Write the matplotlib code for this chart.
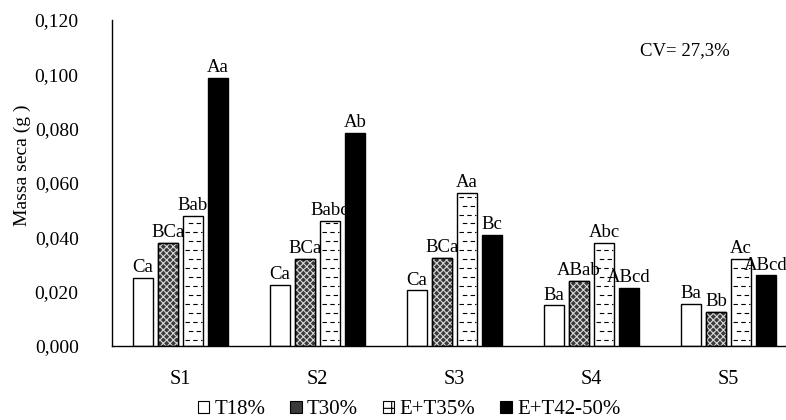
import matplotlib.pyplot as plt
from matplotlib.patches import Patch
from matplotlib.ticker import MultipleLocator, FuncFormatter
import numpy as np

plt.rcParams['font.family'] = ['Liberation Serif', 'DejaVu Serif']
plt.rcParams['hatch.linewidth'] = 0.8

sites = ["S1", "S2", "S3", "S4", "S5"]
treatments = ["T18%", "T30%", "E+T35%", "E+T42-50%"]

t18 = [0.025, 0.0225, 0.0205, 0.015, 0.0155]
t30 = [0.038, 0.032, 0.0325, 0.024, 0.0125]
et35 = [0.048, 0.046, 0.0565, 0.038, 0.032]
et42 = [0.0987, 0.0785, 0.041, 0.0215, 0.026]

lab_t18 = ["Ca", "Ca", "Ca", "Ba", "Ba"]
lab_t30 = ["BCa", "BCa", "BCa", "ABab", "Bb"]
lab_et35 = ["Bab", "Babc", "Aa", "Abc", "Ac"]
lab_et42 = ["Aa", "Ab", "Bc", "ABcd", "ABcd"]

series = [t18, t30, et35, et42]
labels = [lab_t18, lab_t30, lab_et35, lab_et42]

fig = plt.figure(figsize=(7.86, 4.2), dpi=100)
ax = fig.add_axes([112/786, 74/420, 1 - 112/786, 326/420])

x = np.arange(len(sites))
w = 0.146
step = 0.1825
offsets = [-1.5*step, -0.5*step, 0.5*step, 1.5*step]

for i, vals in enumerate(series):
    pos = x + offsets[i]
    if i == 0:
        b = ax.bar(pos, vals, w, color='white', edgecolor='black', linewidth=1)
    elif i == 1:
        b = ax.bar(pos, vals, w, color='#3a3a3a', edgecolor='black', linewidth=1)
        # light cross-hatch over the dark fill
        ax.bar(pos, vals, w, color='none', edgecolor='#d8d8d8', linewidth=0,
               hatch='xxxxx')
        ax.bar(pos, vals, w, color='none', edgecolor='black', linewidth=1)
    elif i == 2:
        b = ax.bar(pos, vals, w, color='white', edgecolor='black', linewidth=1)
        # staggered short dashes inside each bar
        for rect, v in zip(b, vals):
            for k, yy in enumerate(np.arange(0.0022, v, 0.0033)):
                dash_off = 0 if k % 2 == 0 else 4
                ln, = ax.plot([rect.get_x() + 0.012, rect.get_x() + w - 0.004], [yy, yy],
                              color='black', lw=0.8,
                              linestyle=(dash_off, (4, 3)))
                ln.set_clip_path(rect)
    else:
        b = ax.bar(pos, vals, w, color='black', edgecolor='black', linewidth=1)
    for p, v, t in zip(pos, vals, labels[i]):
        ax.text(p, v + 0.0006, t, ha='center', va='bottom', fontsize=13.5)

ax.set_ylim(0, 0.12)
ax.set_xlim(-0.5, -0.5 + (786 - 112) / 137)
ax.yaxis.set_major_locator(MultipleLocator(0.02))
ax.yaxis.set_major_formatter(FuncFormatter(lambda v, p: f"{v:.3f}".replace('.', ',')))
ax.set_xticks(x)
ax.set_xticklabels(sites)
ax.tick_params(axis='y', length=0, pad=24, labelsize=14, colors='black')
ax.tick_params(axis='x', length=0, pad=17, labelsize=14.5)
for s in ['top', 'right']:
    ax.spines[s].set_visible(False)
ax.spines['left'].set_linewidth(1)
ax.spines['bottom'].set_linewidth(1)
ax.set_ylabel("Massa seca (g )", fontsize=14)
ax.yaxis.set_label_coords(-(112 - 31) / 674, (346 - 165) / 326)

ax.text((685 - 112) / 674, 0.905, "CV= 27,3%", transform=ax.transAxes,
        ha='center', va='center', fontsize=13.5)

handles = [
    Patch(facecolor='white', edgecolor='black', linewidth=0.8),
    Patch(facecolor='#3a3a3a', edgecolor='black', linewidth=0.8),
    Patch(facecolor='white', edgecolor='black', linewidth=0.8, hatch='-|'),
    Patch(facecolor='black', edgecolor='black', linewidth=0.8),
]
fig.legend(handles, treatments, loc='center', bbox_to_anchor=(409/786, 1 - 410/420),
           ncol=4, frameon=False, fontsize=15, handlelength=0.55, handleheight=0.55,
           handletextpad=0.25, columnspacing=1.2)

fig.savefig("out.png", dpi=100)
